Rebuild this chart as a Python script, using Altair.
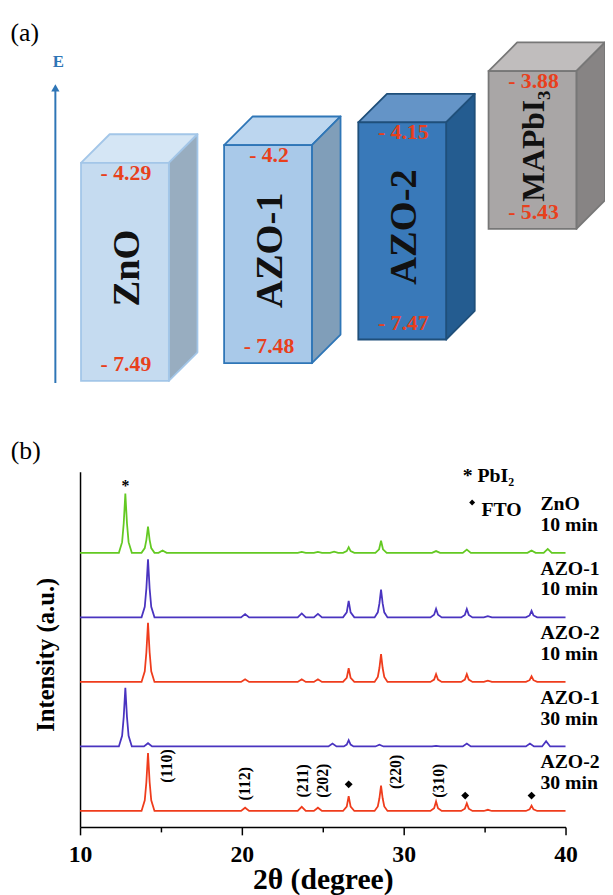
import altair as alt
import pandas as pd

FONT = "Liberation Serif"

# ---------------- panel (a): band-edge diagram (schematic boxes) ----------------
materials   = ["ZnO", "AZO-1", "AZO-2", "MAPbI₃"]
cb_text     = ["- 4.29", "- 4.2", "- 4.15", "- 3.88"]
vb_text     = ["- 7.49", "- 7.48", "- 7.47", "- 5.43"]
# schematic (not-to-scale) box extents in diagram units
box_left    = [82, 227, 363, 495]
box_top     = [241, 259, 282, 334]
box_bottom  = [20, 38, 62, 174]
name_size   = [39, 39, 39, 32]
front_color = ["#c5dbf0", "#a9c9e9", "#3979b9", "#a9a6a6"]
top_color   = ["#d5e6f5", "#bcd6ef", "#6494c7", "#c0bdbd"]
side_color  = ["#98adc0", "#809eb9", "#245c90", "#878484"]
edge_color  = ["#a3c6e8", "#2f76b7", "#1f4f7a", "#777777"]
BOX_W, DEPTH = 89, 29
e_axis_x, e_axis_from, e_axis_to = 56, 18, 318

# ---------------- panel (b): XRD patterns ----------------
trace_names  = ["ZnO", "AZO-1", "AZO-2", "AZO-1", "AZO-2"]
trace_times  = ["10 min", "10 min", "10 min", "30 min", "30 min"]
trace_colors = ["#63c922", "#4a34c0", "#ef3c1c", "#4a34c0", "#ef3c1c"]
trace_offset = [463, 354, 245, 136, 27]

x_zno_10 = [10.0, 12.4, 12.6, 12.7, 12.8, 12.9, 13.0, 13.2,
            13.8, 14.0, 14.1, 14.2, 14.3, 14.4, 14.6,
            14.85, 15.1, 15.35,
            23.45, 23.7, 23.95, 24.45, 24.7, 24.95, 25.45, 25.7, 25.95,
            26.25, 26.48, 26.6, 26.72, 26.95,
            28.25, 28.48, 28.6, 28.72, 28.95,
            31.75, 32.0, 32.25, 33.65, 33.9, 34.15, 37.65, 37.9, 38.15,
            38.65, 38.9, 39.15, 40.0]
y_zno_10 = [0, 0, 18, 50, 100, 50, 18, 0,
            0, 8, 22, 44.5, 22, 8, 0,
            0, 4, 0,
            0, 1.5, 0, 0, 1.5, 0, 0, 2, 0,
            0, 2.8, 9.5, 2.8, 0,
            0, 6, 20.5, 6, 0,
            0, 3, 0, 0, 5.5, 0, 0, 4, 0,
            0, 6.7, 0, 0]

x_azo_std = [10.0, 13.8, 14.0, 14.1, 14.2, 14.3, 14.4, 14.6,
             19.95, 20.2, 20.45,
             23.45, 23.7, 23.95, 24.45, 24.7, 24.95,
             26.25, 26.48, 26.6, 26.72, 26.95,
             28.2, 28.4, 28.5, 28.6, 28.7, 28.8, 29.0,
             31.65, 31.88, 32.0, 32.12, 32.35,
             33.55, 33.78, 33.9, 34.02, 34.25,
             34.95, 35.2, 35.45,
             37.55, 37.78, 37.9, 38.02, 38.25, 40.0]
y_azo1_10 = [0, 0, 18, 49, 98, 49, 18, 0,
             0, 5.5, 0,
             0, 6.7, 0, 0, 6, 0,
             0, 8.4, 28, 8.4, 0,
             0, 8.5, 23.5, 47, 23.5, 8.5, 0,
             0, 4.4, 14.5, 4.4, 0,
             0, 4.2, 14, 4.2, 0,
             0, 2, 0,
             0, 3.3, 11, 3.3, 0, 0]
y_azo2_10 = [0, 0, 18, 50, 100, 50, 18, 0,
             0, 4.5, 0,
             0, 4.5, 0, 0, 4.5, 0,
             0, 6.9, 23, 6.9, 0,
             0, 8.5, 23.5, 47, 23.5, 8.5, 0,
             0, 3.9, 13, 3.9, 0,
             0, 3.9, 13, 3.9, 0,
             0, 2, 0,
             0, 2.9, 9.5, 2.9, 0, 0]
y_azo2_30 = [0, 0, 18, 49, 98, 49, 18, 0,
             0, 5.5, 0,
             0, 7, 0, 0, 5.5, 0,
             0, 7.5, 25, 7.5, 0,
             0, 7.7, 21.5, 43, 21.5, 7.7, 0,
             0, 4.8, 16, 4.8, 0,
             0, 3.9, 13, 3.9, 0,
             0, 2, 0,
             0, 2.7, 9, 2.7, 0, 0]
x_azo1_30 = [10.0, 12.4, 12.6, 12.7, 12.8, 12.9, 13.0, 13.2,
             13.95, 14.2, 14.45,
             25.35, 25.6, 25.85,
             26.3, 26.48, 26.6, 26.72, 26.9,
             28.25, 28.5, 28.75,
             31.75, 32.0, 32.25,
             33.65, 33.9, 34.15,
             37.55, 37.8, 38.05,
             38.55, 38.8, 39.05, 40.0]
y_azo1_30 = [0, 0, 18, 50, 99, 50, 18, 0,
             0, 5.5, 0,
             0, 5, 0,
             0, 3.2, 10.5, 3.2, 0,
             0, 3, 0,
             0, 1, 0,
             0, 5, 0,
             0, 5, 0,
             0, 9, 0, 0]

trace_x = [x_zno_10, x_azo_std, x_azo_std, x_azo1_30, x_azo_std]
trace_y = [y_zno_10, y_azo1_10, y_azo2_10, y_azo1_30, y_azo2_30]

hkl_text   = ["(110)", "(112)", "(211)", "(202)", "(220)", "(310)"]
hkl_2theta = [15.4, 20.2, 23.8, 25.0, 29.5, 32.2]
hkl_y      = [103, 73, 78, 78, 93, 78]
fto_2theta = [26.6, 33.8, 37.9]
fto_y      = [72, 53, 53]
pbi2_2theta, pbi2_y = 12.8, 576

# ====================== build tables ======================
rows = []
for i, (xs, ys) in enumerate(zip(trace_x, trace_y)):
    for xv, yv in zip(xs, ys):
        rows.append({"x": xv, "y": trace_offset[i] + yv, "trace": i, "col": trace_colors[i]})
df_lines = pd.DataFrame(rows)

df_tlab = pd.DataFrame(
    [{"x": 38.45, "y": trace_offset[i] + 82, "t": trace_names[i]} for i in range(5)]
    + [{"x": 38.45, "y": trace_offset[i] + 47, "t": trace_times[i]} for i in range(5)]
)
df_hkl = pd.DataFrame({"x": hkl_2theta, "y": hkl_y, "t": hkl_text})
df_fto = pd.DataFrame({"x": fto_2theta + [34.23], "y": fto_y + [548],
                       "s": [64, 64, 64, 36]})
df_star = pd.DataFrame({"x": [pbi2_2theta], "y": [pbi2_y], "t": ["*"]})
df_leg = pd.DataFrame({"x": [33.65, 34.8], "y": [593, 536], "t": ["* PbI₂", "FTO"]})

xb = alt.Scale(domain=[10, 40], nice=False, zero=False)
yb = alt.Scale(domain=[0, 600], range=[824, 464], nice=False, zero=False)

x_axis = alt.Axis(
    orient="bottom", values=[10, 15, 20, 25, 30, 35, 40],
    labelExpr="datum.value % 10 === 0 ? datum.label : ''",
    tickSize={"condition": {"test": "datum.value % 10 !== 0", "value": 5}, "value": 8},
    tickColor="black", tickWidth=1.5, domainColor="black", domainWidth=1.5,
    labelFont=FONT, labelFontWeight="bold", labelFontSize=24, labelColor="black",
    labelPadding=8, labelOverlap=False, labelFlush=False, grid=False,
    title="2θ (degree)", titleFont=FONT, titleFontWeight="bold", titleFontSize=30,
    titleColor="black", titlePadding=-2,
)
y_axis = alt.Axis(
    orient="left", labels=False, ticks=False, grid=False,
    domainColor="black", domainWidth=1.5,
    title="Intensity (a.u.)", titleFont=FONT, titleFontWeight="bold", titleFontSize=25,
    titleColor="black", titleAngle=270, titleX=-35, titleY=649,
    titleAlign="center", titleBaseline="middle",
)

def bx():
    return alt.X("x:Q", scale=xb, axis=x_axis)

def by():
    return alt.Y("y:Q", scale=yb, axis=y_axis)

lines = alt.Chart(df_lines).mark_line(strokeWidth=1.8).encode(
    x=bx(), y=by(), color=alt.Color("col:N", scale=None), detail="trace:N"
)
tlab = alt.Chart(df_tlab).mark_text(
    font=FONT, fontWeight="bold", fontSize=20, align="left", baseline="middle", color="black"
).encode(x=bx(), y=by(), text="t:N")
hkl = alt.Chart(df_hkl).mark_text(
    font=FONT, fontWeight="bold", fontSize=16, angle=270, align="center",
    baseline="middle", color="black"
).encode(x=bx(), y=by(), text="t:N")
fto = alt.Chart(df_fto).mark_point(shape="diamond", filled=True, color="black", opacity=1).encode(
    x=bx(), y=by(), size=alt.Size("s:Q", scale=None)
)
star = alt.Chart(df_star).mark_text(
    font=FONT, fontWeight="bold", fontSize=16, align="center", baseline="middle", color="black"
).encode(x=bx(), y=by(), text="t:N")
leg = alt.Chart(df_leg).mark_text(
    font=FONT, fontWeight="bold", fontSize=20, align="left", baseline="middle", color="black"
).encode(x=bx(), y=by(), text="t:N")

panel_b = alt.layer(lines, tlab, hkl, fto, star, leg)

# ---------------- panel (a) tables ----------------
xa = alt.Scale(domain=[0, 613], range=[-81, 532], nice=False, zero=False)
ya = alt.Scale(domain=[0, 400], range=[392, -8], nice=False, zero=False)

front, topf, side = [], [], []
for i, m in enumerate(materials):
    L, T, B = box_left[i], box_top[i], box_bottom[i]
    front.append({"x0": L, "x1": L + BOX_W, "t": T, "b": B,
                  "f": front_color[i], "e": edge_color[i]})
    topf.append({"m": m, "yy": T, "xa": L, "xb": L + BOX_W, "f": top_color[i], "e": edge_color[i]})
    topf.append({"m": m, "yy": T + DEPTH, "xa": L + DEPTH, "xb": L + BOX_W + DEPTH,
                 "f": top_color[i], "e": edge_color[i]})
    side.append({"m": m, "xx": L + BOX_W, "ya": T, "yb": B, "f": side_color[i], "e": edge_color[i]})
    side.append({"m": m, "xx": L + BOX_W + DEPTH, "ya": T + DEPTH, "yb": B + DEPTH,
                 "f": side_color[i], "e": edge_color[i]})
df_front = pd.DataFrame(front)
df_top = pd.DataFrame(topf)
df_side = pd.DataFrame(side)
df_cb = pd.DataFrame({"x": [l + BOX_W / 2 + 1 for l in box_left],
                      "y": [t - 10 for t in box_top], "t": cb_text})
df_vb = pd.DataFrame({"x": [l + BOX_W / 2 + 1 for l in box_left],
                      "y": [b + 17 for b in box_bottom], "t": vb_text})
df_nm = pd.DataFrame({"x": [l + BOX_W / 2 + 2 for l in box_left],
                      "y": [(t + b) / 2 + 4 for t, b in zip(box_top, box_bottom)],
                      "t": materials, "s": name_size})
df_arrow = pd.DataFrame({"x": [e_axis_x], "y": [e_axis_from], "y2": [e_axis_to]})
df_head = pd.DataFrame({"x": [e_axis_x], "y": [e_axis_to - 1]})
df_e = pd.DataFrame({"x": [e_axis_x + 3], "y": [e_axis_to + 25], "t": ["E"]})
df_tag = pd.DataFrame({"x": [25, 26], "y": [372, -51], "t": ["(a)", "(b)"]})

def ax(f):
    return alt.X(f, scale=xa, axis=None)

def ay(f):
    return alt.Y(f, scale=ya, axis=None)

top_faces = alt.Chart(df_top).mark_area(orient="horizontal", strokeWidth=1.8, strokeJoin="round").encode(
    y=ay("yy:Q"), x=ax("xa:Q"), x2="xb:Q",
    fill=alt.Fill("f:N", scale=None), stroke=alt.Stroke("e:N", scale=None), detail="m:N"
)
side_faces = alt.Chart(df_side).mark_area(orient="vertical", strokeWidth=1.8, strokeJoin="round").encode(
    x=ax("xx:Q"), y=ay("ya:Q"), y2="yb:Q",
    fill=alt.Fill("f:N", scale=None), stroke=alt.Stroke("e:N", scale=None), detail="m:N"
)
front_faces = alt.Chart(df_front).mark_rect(strokeWidth=1.8).encode(
    x=ax("x0:Q"), x2="x1:Q", y=ay("t:Q"), y2="b:Q",
    fill=alt.Fill("f:N", scale=None), stroke=alt.Stroke("e:N", scale=None)
)
cb = alt.Chart(df_cb).mark_text(font=FONT, fontWeight="bold", fontSize=22, color="#e8401c",
                                baseline="middle").encode(x=ax("x:Q"), y=ay("y:Q"), text="t:N")
vb = alt.Chart(df_vb).mark_text(font=FONT, fontWeight="bold", fontSize=22, color="#e8401c",
                                baseline="middle").encode(x=ax("x:Q"), y=ay("y:Q"), text="t:N")
names = alt.Chart(df_nm).mark_text(font=FONT, fontWeight="bold", angle=270, color="#111111",
                                   baseline="middle", align="center").encode(
    x=ax("x:Q"), y=ay("y:Q"), text="t:N", size=alt.Size("s:Q", scale=None)
)
arrow = alt.Chart(df_arrow).mark_rule(color="#2e75b6", strokeWidth=2).encode(
    x=ax("x:Q"), y=ay("y:Q"), y2="y2:Q"
)
head = alt.Chart(df_head).mark_point(shape="triangle-up", filled=True, color="#2e75b6",
                                     size=70, opacity=1).encode(x=ax("x:Q"), y=ay("y:Q"))
elab = alt.Chart(df_e).mark_text(font=FONT, fontWeight="bold", fontSize=17, color="#2e75b6",
                                 baseline="middle").encode(x=ax("x:Q"), y=ay("y:Q"), text="t:N")
tags = alt.Chart(df_tag).mark_text(font=FONT, fontSize=26, color="black",
                                   baseline="middle").encode(x=ax("x:Q"), y=ay("y:Q"), text="t:N")

panel_a = alt.layer(top_faces, side_faces, front_faces, cb, vb, names, arrow, head, elab, tags)

chart = alt.layer(panel_b, panel_a).resolve_scale(
    x="independent", y="independent"
).properties(
    width=492, height=824,
    autosize=alt.AutoSizeParams(type="none"),
    padding={"left": 73, "top": 0, "right": 40, "bottom": 63},
).configure_view(stroke=None)

chart.save("out.html", embed_options={"renderer": "svg", "actions": False})
